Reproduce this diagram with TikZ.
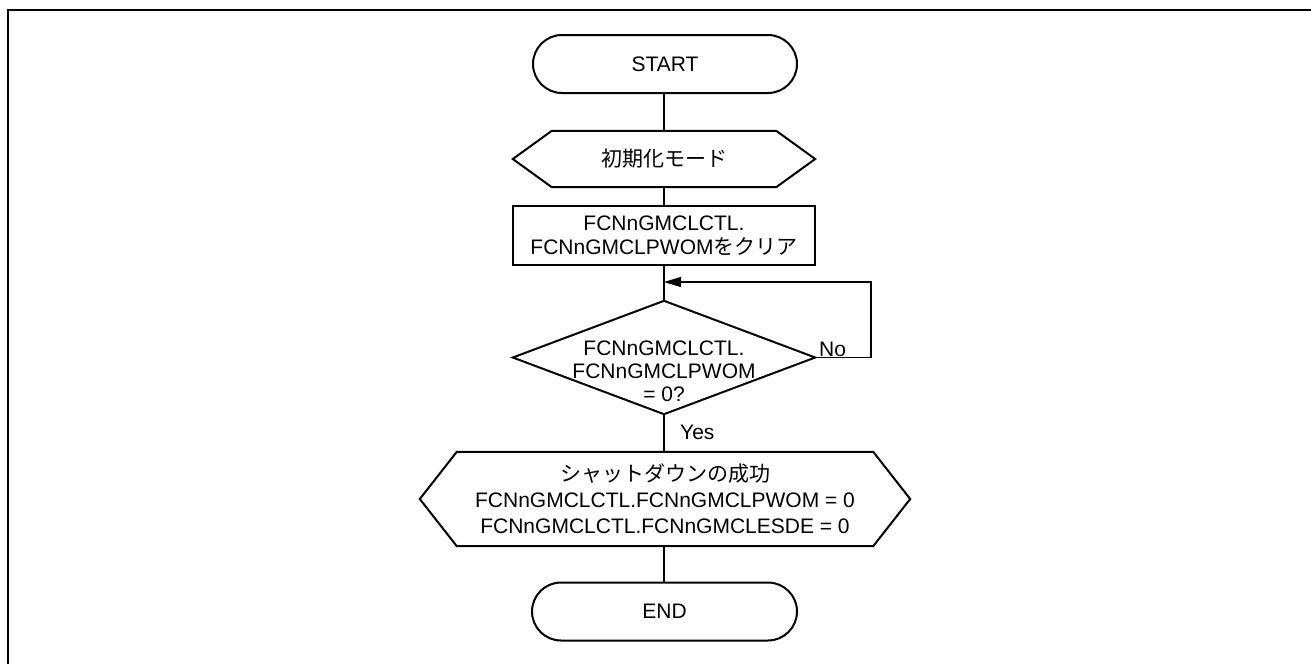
\documentclass[tikz,border=0pt]{standalone}
\usepackage{fontspec}
\setmainfont{Liberation Sans}
\newfontfamily\jp{Noto Sans CJK JP}
\usetikzlibrary{arrows.meta}
\begin{document}
\begin{tikzpicture}[x=1pt,y=-1pt,
  shp/.style={draw=black,line width=2pt,line join=miter},
  conn/.style={draw=black,line width=1.3pt},
  txt/.style={font=\fontsize{21}{24}\selectfont, align=center, inner sep=0pt},
  term/.style={txt, draw=black, line width=2pt, rounded corners=29pt, minimum width=264pt, minimum height=58pt},
  procbox/.style={txt, draw=black, line width=2.5pt, minimum width=302pt, minimum height=59pt},
  frame/.style={draw=black,line width=2pt}
]
\useasboundingbox (0,0) rectangle (1311,664);
% frame
\coordinate (fbl) at (7.8,664);
\coordinate (ftl) at (7.8,10);
\coordinate (ftr) at (1311,10);
\draw[frame] (fbl) -- (ftl) -- (ftr);

% START
\node[term] (start) at (665,64) {START};

% hexagon 1
\node[txt, minimum width=302pt, minimum height=56pt] (h1) at (664,159) {{\jp 初期化モード}};
\draw[shp] (h1.west) -- ([xshift=39pt]h1.north west) -- ([xshift=-39pt]h1.north east)
  -- (h1.east) -- ([xshift=-39pt]h1.south east) -- ([xshift=39pt]h1.south west) -- cycle;

% process box
\node[procbox] (r) at (664,235.5) {FCNnGMCLCTL.\\FCNnGMCLPWOM{\jp をクリア}};

% decision
\node[minimum width=302pt, minimum height=113pt, inner sep=0pt] (d) at (664,357.5) {};
\draw[shp] (d.north) -- (d.east) -- (d.south) -- (d.west) -- cycle;
\node[txt, font=\fontsize{21}{23}\selectfont] (dtext) at (664,371) {FCNnGMCLCTL.\\FCNnGMCLPWOM\\= 0?};

% hexagon 2
\node[txt, font=\fontsize{21}{26}\selectfont, minimum width=490pt, minimum height=94pt] (h2) at (665,499)
  {{\jp シャットダウンの成功}\\FCNnGMCLCTL.FCNnGMCLPWOM = 0\\FCNnGMCLCTL.FCNnGMCLESDE = 0};
\draw[shp] (h2.west) -- ([xshift=37pt]h2.north west) -- ([xshift=-37pt]h2.north east)
  -- (h2.east) -- ([xshift=-37pt]h2.south east) -- ([xshift=37pt]h2.south west) -- cycle;

% END
\node[term, minimum width=265pt] (e) at (664.5,611.5) {END};

% labels
\node[txt, anchor=west] (no) at (819,349) {No};
\node[txt, anchor=west] (yes) at (680,432) {Yes};

% connectors
\draw[conn] (start.south -| h1.north) -- (h1.north);
\draw[conn] (h1.south) -- (r.north);
\draw[conn] (r.south) -- (d.north);
\draw[conn] (d.south) -- (d.south |- h2.north);
\draw[conn] (d.south |- h2.south) -- (d.south |- e.north);
\coordinate (fb) at (871,282);
\draw[conn, -{Triangle[length=17pt,width=10pt]}] (d.east) -| (fb) -- (fb -| r.south);
\end{tikzpicture}
\end{document}
